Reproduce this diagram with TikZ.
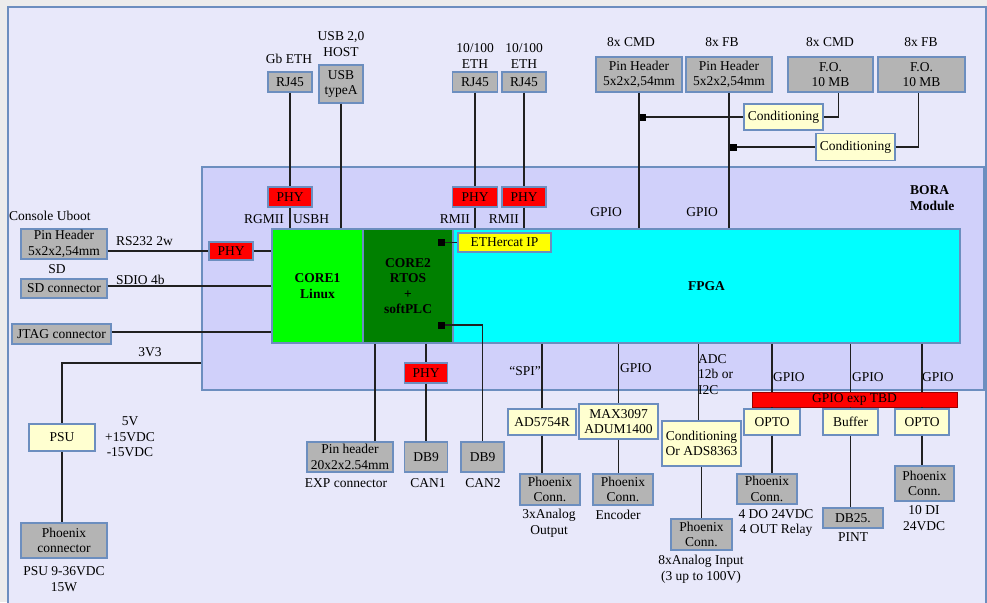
\documentclass[tikz,border=0pt]{standalone}
\usepackage{fontspec}
\setmainfont{Liberation Serif}
\usepackage{tikz}
\definecolor{pagegray}{HTML}{ECECEC}
\definecolor{framebg}{HTML}{E8E8FA}
\definecolor{modbg}{HTML}{D0D0FA}
\definecolor{edge}{HTML}{6C8EBF}
\definecolor{boxgray}{HTML}{B4B4B4}
\definecolor{condbg}{HTML}{FFFFD0}
\definecolor{wire}{HTML}{202020}
\definecolor{corelime}{HTML}{00FF00}
\definecolor{coredark}{HTML}{008000}
\definecolor{fpgacyan}{HTML}{00FFFF}
\definecolor{ipyellow}{HTML}{FFFF00}
\definecolor{phyred}{HTML}{FF0000}

\begin{document}
\begin{tikzpicture}[x=1pt,y=-1pt,
    every node/.style={font=\fontsize{13.5}{15.5}\selectfont,align=center,inner sep=1pt},
    box/.style={draw=edge,line width=1.2pt,rectangle},
    conbox/.style={box,fill=boxgray},
    condbox/.style={box,fill=condbg},
    phybox/.style={box,fill=phyred},
    blk/.style={box,font=\fontsize{13.5}{15.5}\selectfont\bfseries},
    jdot/.style={fill=black,minimum size=7,inner sep=0},
    txtl/.style={anchor=west,align=left},
    wires/.style={draw=wire,line width=1.2pt}]
    \useasboundingbox (0,0) rectangle (987,602);
    \fill[pagegray] (0,0) rectangle (987,602);
    \filldraw[fill=framebg,draw=edge,line width=1.2pt] (8,7) rectangle (986,612);

    % module and processors
    \node[box,fill=modbg,minimum width=782,minimum height=223] (bora) at (593,278.5) {};
    \node[blk,fill=corelime,minimum width=91,minimum height=114] (core1) at (317.5,286) {CORE1\\Linux};
    \node[blk,fill=coredark,minimum width=90,minimum height=114] (core2) at (408,286) {CORE2\\RTOS\\+\\softPLC};
    \node[blk,fill=fpgacyan,minimum width=507,minimum height=114] (fpga) at (706.5,286) {FPGA};
    \node[txtl,font=\fontsize{13.5}{15.5}\selectfont\bfseries] (boralbl) at (909,198) {BORA\\Module};
    \node[box,fill=ipyellow,minimum width=93,minimum height=19,inner sep=0] (ecat) at (504.5,242.5) {ETHercat IP};
    \node[jdot] (jec) at (441.5,242.5) {};
    \node[jdot] (jcan) at (441.5,325) {};

    % top connectors
    \node[conbox,minimum width=44,minimum height=20] (rjgb) at (290,82) {RJ45};
    \node[conbox,minimum width=44,minimum height=38] (usb) at (341,84) {USB\\typeA};
    \node[conbox,minimum width=45,minimum height=20] (rja) at (475,82) {RJ45};
    \node[conbox,minimum width=44,minimum height=20] (rjb) at (524,82) {RJ45};
    \node[conbox,minimum width=86,minimum height=35] (phcmd) at (639,74.5) {Pin Header\\5x2x2,54mm};
    \node[conbox,minimum width=86,minimum height=35] (phfb) at (729,74.5) {Pin Header\\5x2x2,54mm};
    \node[conbox,minimum width=85,minimum height=35] (focmd) at (830.5,74.5) {F.O.\\10 MB};
    \node[conbox,minimum width=87,minimum height=35] (fofb) at (921.5,74.5) {F.O.\\10 MB};
    \node (lgb) at (289,59) {Gb ETH};
    \node (lusb) at (341,44) {USB 2,0\\HOST};
    \node (leth1) at (475,56) {10/100\\ETH};
    \node (leth2) at (524,56) {10/100\\ETH};
    \node (lcmd1) at (631,42) {8x CMD};
    \node (lfb1) at (722,42) {8x FB};
    \node (lcmd2) at (830,42) {8x CMD};
    \node (lfb2) at (921,42) {8x FB};
    \node[condbox,minimum width=79,minimum height=26] (cond1) at (783.5,117) {Conditioning};
    \node[condbox,minimum width=79,minimum height=27] (cond2) at (855.5,147) {Conditioning};
    \node[jdot] (jcmd) at (642,117) {};
    \node[jdot] (jfb) at (733,147) {};
    \node[phybox,minimum width=44,minimum height=20] (phygb) at (290,197) {PHY};
    \node[phybox,minimum width=45,minimum height=20] (phya) at (475,197) {PHY};
    \node[phybox,minimum width=44,minimum height=20] (phyb) at (524,197) {PHY};
    \node[anchor=east] (lrgmii) at (285,219) {RGMII};
    \node[anchor=west] (lusbh) at (292,219) {USBH};
    \node[anchor=east] (lrmii1) at (471,219) {RMII};
    \node[anchor=east] (lrmii2) at (520,219) {RMII};
    \node (lgpio1) at (606,212) {GPIO};
    \node (lgpio2) at (702,212) {GPIO};

    % left side
    \node[txtl] (lcons) at (8,216) {Console Uboot};
    \node[conbox,minimum width=86,minimum height=30] (phcon) at (64,244) {Pin Header\\5x2x2,54mm};
    \node[txtl] (lrs) at (115,241) {RS232 2w};
    \node[phybox,minimum width=44,minimum height=18] (phyrs) at (231,251) {PHY};
    \node (lsd) at (57,269) {SD};
    \node[conbox,minimum width=86,minimum height=19] (sdcon) at (64,288.5) {SD connector};
    \node[txtl] (lsdio) at (115,280) {SDIO 4b};
    \node[conbox,minimum width=99,minimum height=20] (jtag) at (61.5,334) {JTAG connector};
    \node (l3v3) at (150,352) {3V3};
    \coordinate (p3v3) at (62,363);
    \node[condbox,minimum width=66,minimum height=27] (psu) at (62,437.5) {PSU};
    \node (lvolt) at (130,437) {5V\\+15VDC\\-15VDC};
    \node[conbox,minimum width=86,minimum height=35] (psucon) at (64,540.5) {Phoenix\\connector};
    \node (lpsu) at (64,579) {PSU 9-36VDC\\15W};

    % bottom side
    \node[conbox,minimum width=86,minimum height=30] (exph) at (350,457) {Pin header\\20x2x2.54mm};
    \node (lexp) at (346,483) {EXP connector};
    \node[phybox,minimum width=43,minimum height=20] (phycan) at (426,373) {PHY};
    \node[conbox,minimum width=43,minimum height=30] (db1) at (426,457) {DB9};
    \node (lcan1) at (428,483) {CAN1};
    \node[conbox,minimum width=43,minimum height=30] (db2) at (482.5,457) {DB9};
    \node (lcan2) at (483,483) {CAN2};
    \node (lspi) at (525,371) {“SPI”};
    \node[condbox,minimum width=68,minimum height=26] (ad) at (542,422) {AD5754R};
    \node[conbox,minimum width=60,minimum height=31] (pxao) at (550,489.5) {Phoenix\\Conn.};
    \node (lao) at (549,523) {3xAnalog\\Output};
    \node[txtl] (lgpio3) at (619,368) {GPIO};
    \node[condbox,minimum width=79,minimum height=35] (max) at (618.5,421.5) {MAX3097\\ADUM1400};
    \node[conbox,minimum width=60,minimum height=31] (pxenc) at (623,489.5) {Phoenix\\Conn.};
    \node (lenc) at (618,515) {Encoder};
    \node[txtl,anchor=north west] (ladc) at (697,353) {ADC\\12b or\\I2C};
    \node[condbox,minimum width=79,minimum height=45] (condai) at (701.5,443.5) {Conditioning\\Or ADS8363};
    \node[conbox,minimum width=61,minimum height=31] (pxai) at (701.5,534.5) {Phoenix\\Conn.};
    \node (lai) at (701,569) {8xAnalog Input\\(3 up to 100V)};
    \node[draw=phyred!60!black,fill=phyred,minimum width=205,minimum height=15,inner sep=0] (gpioexp) at (854.5,399.5) {GPIO exp TBD};
    \node[txtl] (lgpio4) at (772,377) {GPIO};
    \node[txtl] (lgpio5) at (851,377) {GPIO};
    \node[txtl] (lgpio6) at (921,377) {GPIO};
    \node[condbox,minimum width=56,minimum height=26] (opto1) at (772,422) {OPTO};
    \node[condbox,minimum width=55,minimum height=26] (buf) at (850.5,422) {Buffer};
    \node[condbox,minimum width=54,minimum height=26] (opto2) at (922,422) {OPTO};
    \node[conbox,minimum width=60,minimum height=30] (pxdo) at (767,489) {Phoenix\\Conn.};
    \node (ldo) at (776,523) {4 DO 24VDC\\4 OUT Relay};
    \node[conbox,minimum width=60,minimum height=20] (db25) at (853,518) {DB25.};
    \node (lpint) at (853,537) {PINT};
    \node[conbox,minimum width=59,minimum height=35] (pxdi) at (924.5,483.5) {Phoenix\\Conn.};
    \node (ldi) at (924,518) {10 DI\\24VDC};

    % wiring
    \draw[wires] (rjgb) -- (phygb) (phygb) -- (phygb |- core1.north);
    \draw[wires] (usb) -- (usb |- core1.north);
    \draw[wires] (rja) -- (phya) (phya) -- (phya |- fpga.north);
    \draw[wires] (rjb) -- (phyb) (phyb) -- (phyb |- fpga.north);
    \draw[wires] (phcmd) -- (phcmd |- fpga.north);
    \draw[wires] (phfb) -- (phfb |- fpga.north);
    \draw[wires] (jcmd) -- (jcmd -| cond1.west) (cond1.east) -| ([xshift=8]focmd.south);
    \draw[wires] (jfb) -- (jfb -| cond2.west) (cond2.east) -| ([xshift=-3]fofb.south);
    \draw[wires] (jec) -- (ecat);
    \draw[wires] (jcan) -| (db2);
    \draw[wires] (phyrs -| phcon.east) -- (phyrs) (phyrs) -- (phyrs -| core1.west);
    \draw[wires] ([yshift=2.5]sdcon.east) -- ([yshift=2.5]sdcon.east -| core1.west);
    \draw[wires] ([yshift=2]jtag.east) -- ([yshift=2]jtag.east -| core1.west);
    \draw[wires] (p3v3 -| bora.west) -- (p3v3) -- (psu) (psu) -- (psu |- psucon.north);
    \draw[wires] ([xshift=25]exph.north) -- ([xshift=25]exph.north |- core2.south);
    \draw[wires] (phycan |- core2.south) -- (phycan) (phycan) -- (db1);
    \draw[wires] (ad |- fpga.south) -- (ad) (ad) -- (ad |- pxao.north);
    \draw[wires] (max |- fpga.south) -- (max) (max) -- (max |- pxenc.north);
    \draw[wires] ([xshift=-3]condai.north |- fpga.south) -- ([xshift=-3]condai.north) (condai) -- (pxai);
    \draw[wires] (opto1 |- fpga.south) -- (opto1 |- gpioexp.north) (opto1 |- gpioexp.south) -- (opto1) (opto1) -- (opto1 |- pxdo.north);
    \draw[wires] (buf |- fpga.south) -- (buf |- gpioexp.north) (buf |- gpioexp.south) -- (buf) (buf) -- (buf |- db25.north);
    \draw[wires] (opto2 |- fpga.south) -- (opto2 |- gpioexp.north) (opto2 |- gpioexp.south) -- (opto2) (opto2) -- (opto2 |- pxdi.north);
\end{tikzpicture}
\end{document}
